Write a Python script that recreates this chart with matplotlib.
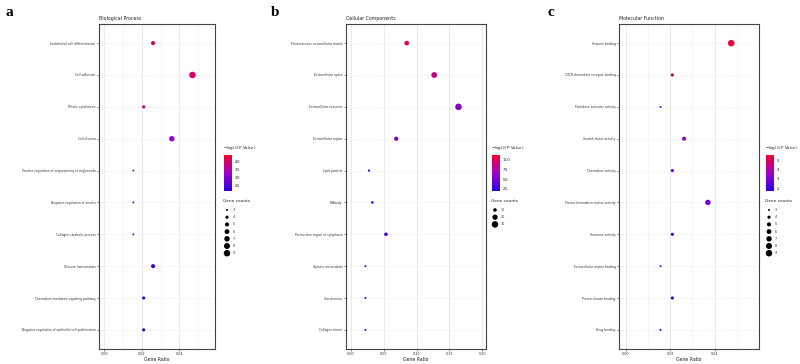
import numpy as np
import matplotlib
matplotlib.use('Agg')
import matplotlib.pyplot as plt
from matplotlib.colors import LinearSegmentedColormap, Normalize

# ---- data ----
bp_terms = ['Endothelial cell differentiation', 'Cell adhesion', 'Mitotic cytokinesis',
            'Cell division', 'Positive regulation of sequestering of triglyceride',
            'Negative regulation of anoikis', 'Collagen catabolic process',
            'Glucose homeostasis', 'Chemokine-mediated signaling pathway',
            'Negative regulation of epithelial cell proliferation']
bp_ratio = [0.026, 0.047, 0.021, 0.036, 0.0155, 0.0155, 0.0155, 0.026, 0.021, 0.021]
bp_count = [5, 9, 4, 7, 3, 3, 3, 5, 4, 4]
bp_logp = [4.1, 4.0, 3.8, 3.3, 2.9, 2.9, 2.8, 2.4, 2.4, 2.3]

cc_terms = ['Proteinaceous extracellular matrix', 'Extracellular space', 'Extracellular exosome',
            'Extracellular region', 'Lipid particle', 'Midbody',
            'Perinuclear region of cytoplasm', 'Spindle microtubule', 'Sarcolemma',
            'Collagen trimer']
cc_ratio = [0.085, 0.127, 0.164, 0.069, 0.0275, 0.0326, 0.0534, 0.022, 0.022, 0.022]
cc_count = [16, 24, 30, 13, 5, 6, 10, 4, 4, 4]
cc_logp = [11.0, 8.5, 5.5, 4.5, 3.0, 2.5, 3.0, 2.2, 2.1, 2.0]

mf_terms = ['Heparin binding', 'CXCR chemokine receptor binding', 'Peptidase activator activity',
            'Growth factor activity', 'Chemokine activity', 'Protein homodimerization activity',
            'Hormone activity', 'Extracellular matrix binding', 'Protein kinase binding',
            'Drug binding']
mf_ratio = [0.0475, 0.021, 0.0157, 0.0263, 0.021, 0.037, 0.021, 0.0157, 0.021, 0.0157]
mf_count = [9, 4, 3, 5, 4, 7, 4, 3, 4, 3]
mf_logp = [5.4, 4.8, 2.5, 3.4, 2.9, 3.0, 2.2, 2.3, 2.0, 1.8]

bp_cticks = [2.5, 3.0, 3.5, 4.0]
cc_cticks = [2.5, 5.0, 7.5, 10.0]
mf_cticks = [2, 3, 4, 5]
bp_legend = [3, 4, 5, 6, 7, 8, 9]
cc_legend = [10, 20, 30]
mf_legend = [3, 4, 5, 6, 7, 8, 9]

W, H = 800, 364
cmap = LinearSegmentedColormap.from_list('bp', ['#2a00e8', '#a000c8', '#f5002a'])

fig = plt.figure(figsize=(W / 100, H / 100), dpi=100)


def px_axes(l, t, r, b):
    return fig.add_axes([l / W, 1 - b / H, (r - l) / W, (b - t) / H])


def size_of(c, cmin, cmax, smin=2.0, smax=22):
    # area grows linearly with the count
    return smin + (np.asarray(c, dtype=float) - cmin) / (cmax - cmin) * (smax - smin)


def panel(letter, title, box, xlim, xticks, xminor, terms, ratio, count, logp,
          crange, cticks, ctickfmt, legvals, cbx, letter_x):
    l, t, r, b = box
    ax = px_axes(l, t, r, b)
    y = np.arange(len(terms))
    cmin = min(min(count), min(legvals))
    cmax = max(max(count), max(legvals))
    norm = Normalize(*crange)
    ax.scatter(ratio, y, s=size_of(count, cmin, cmax), c=logp, cmap=cmap, norm=norm,
               linewidths=0, zorder=3)
    ax.set_ylim(len(terms) - 0.4, -0.6)
    ax.set_xlim(*xlim)
    ax.set_yticks(y)
    ax.set_yticklabels(terms, fontsize=2.2, color='#333333')
    ax.set_xticks(xticks)
    ax.set_xticklabels([f'{v:.2f}' for v in xticks], fontsize=2.4, color='#333333')
    if xminor is not None:
        ax.set_xticks(xminor, minor=True)
        ax.grid(which='minor', axis='x', color='#eeeeee', linewidth=0.4)
    ax.tick_params(which='minor', length=0)
    ax.tick_params(length=1.2, width=0.4, pad=1.2, color='#333333')
    ax.grid(which='major', axis='x', color='#e2e2e2', linewidth=0.5)
    ax.grid(which='major', axis='y', color='#e6e6e6', linewidth=0.5, linestyle=(0, (2, 2)))
    ax.set_axisbelow(True)
    for sp in ax.spines.values():
        sp.set_color('#444444')
        sp.set_linewidth(0.8)
    ax.set_xlabel('Gene Ratio', fontsize=3.3, labelpad=0.5, color='#222222')
    ax.set_title(title, fontsize=3.4, loc='left', pad=3, color='#222222')
    fig.text(letter_x / W, 1 - 12 / H, letter, fontsize=11, fontweight='bold',
             family='Liberation Serif', va='center', ha='left')

    # colour bar
    cax = px_axes(cbx, 155, cbx + 7.5, 191)
    cb = fig.colorbar(plt.cm.ScalarMappable(norm=norm, cmap=cmap), cax=cax)
    cb.set_ticks(cticks)
    cb.set_ticklabels([ctickfmt.format(v) for v in cticks])
    cb.ax.tick_params(labelsize=2.4, length=1.2, width=0.3, pad=1, color='white')
    cb.outline.set_visible(False)
    fig.text((cbx - 1) / W, 1 - 148 / H, r'$-\log_{10}$(P Value)', fontsize=2.9,
             va='center', ha='left', color='#222222')

    # size legend
    fig.text((cbx - 1) / W, 1 - 201 / H, 'Gene counts', fontsize=3.1,
             va='center', ha='left', color='#222222')
    ys = [210 + i * 7.2 for i in range(len(legvals))]
    for v, yy in zip(legvals, ys):
        fig.text((cbx + 9) / W, 1 - yy / H, str(v), fontsize=2.4, va='center',
                 ha='left', color='#333333')
    lax = px_axes(cbx - 2, 205, cbx + 8, ys[-1] + 5)
    lax.set_xlim(0, 1)
    lax.set_ylim(ys[-1] + 5, 205)
    lax.scatter([0.5] * len(legvals), ys, s=size_of(legvals, cmin, cmax), c='black',
                linewidths=0)
    lax.axis('off')
    return ax


panel('a', 'Biological Process', (99, 24, 215, 349), (-0.0028, 0.059),
      [0.00, 0.02, 0.04], [0.01, 0.03, 0.05], bp_terms, bp_ratio, bp_count, bp_logp,
      (2.19, 4.41), bp_cticks, '{:.1f}', bp_legend, 224, 6)
panel('b', 'Cellular Components', (346, 24, 486, 349), (-0.0076, 0.206),
      [0.00, 0.05, 0.10, 0.15, 0.20], None, cc_terms, cc_ratio, cc_count, cc_logp,
      (1.9, 11.3), cc_cticks, '{:.1f}', cc_legend, 492, 271)
panel('c', 'Molecular Function', (619, 24, 759, 349), (-0.003, 0.060),
      [0.00, 0.02, 0.04], [0.01, 0.03, 0.05], mf_terms, mf_ratio, mf_count, mf_logp,
      (1.7, 5.6), mf_cticks, '{:d}', mf_legend, 766, 547)

fig.savefig('out.png', dpi=100, facecolor='white')
